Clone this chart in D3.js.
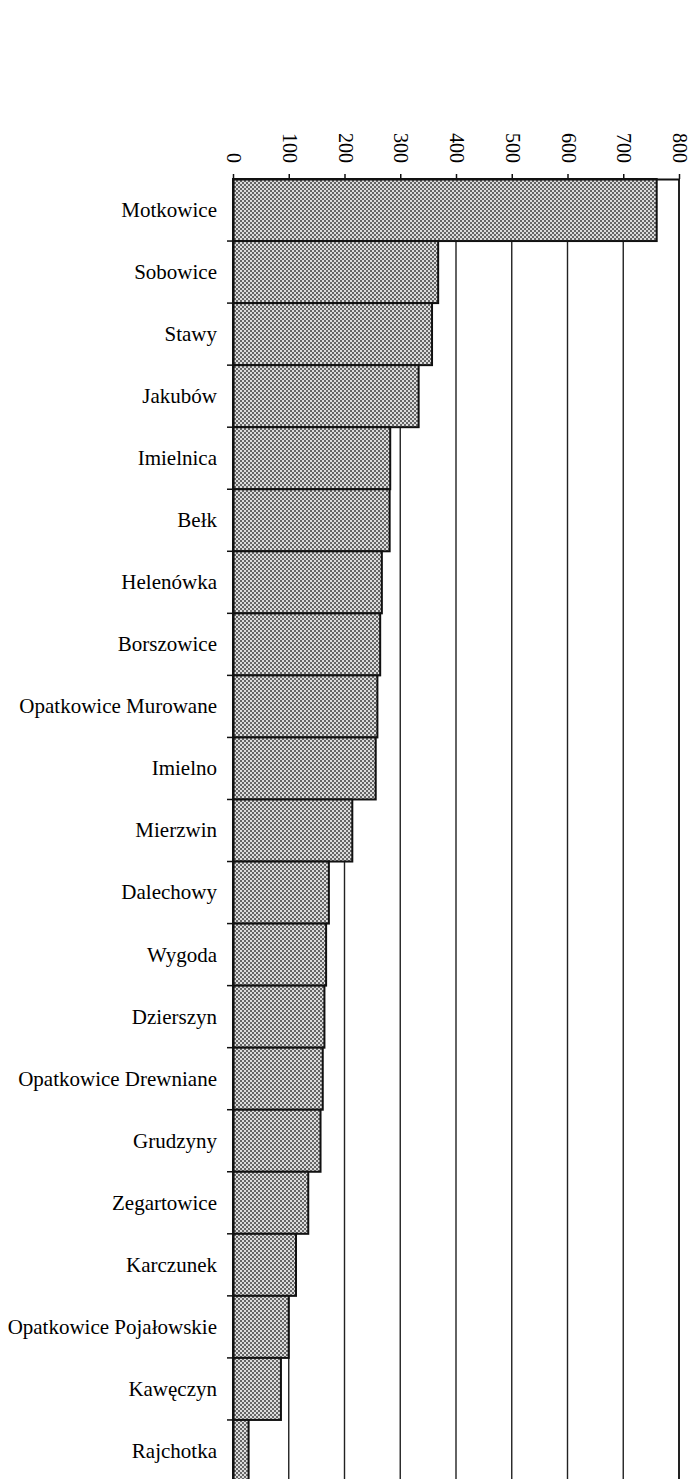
<!DOCTYPE html>
<html>
<head>
<meta charset="utf-8">
<script src="https://cdn.jsdelivr.net/npm/d3@7"></script>
<style>
    body { margin: 0; background: #fff; }
    text { font-family: "Liberation Serif", "Times New Roman", serif; fill: #000; }
</style>
</head>
<body>
<script>
const places = [
    "Motkowice", "Sobowice", "Stawy", "Jakubów", "Imielnica", "Bełk", "Helenówka",
    "Borszowice", "Opatkowice Murowane", "Imielno", "Mierzwin", "Dalechowy", "Wygoda",
    "Dzierszyn", "Opatkowice Drewniane", "Grudzyny", "Zegartowice", "Karczunek",
    "Opatkowice Pojałowskie", "Kawęczyn", "Rajchotka"
]
const counts = [
    760, 368, 357, 333, 282, 281, 267,
    264, 259, 256, 214, 172, 167,
    164, 161, 157, 135, 113,
    100, 86, 28
]
const ticks = [0, 100, 200, 300, 400, 500, 600, 700, 800]

const pageWidth = 693
const pageHeight = 1479
const plotLeft = 233
const plotRight = 679
const plotTop = 179
const plotBottom = 1482

const svg = d3.select("body")
    .append("svg")
    .attr("width", pageWidth)
    .attr("height", pageHeight)

// checker halftone like the scanned original
const pat = svg.append("defs").append("pattern")
    .attr("id", "dots")
    .attr("patternUnits", "userSpaceOnUse")
    .attr("width", 4)
    .attr("height", 4)
pat.append("rect").attr("width", 4).attr("height", 4).attr("fill", "#dcdcdc")
pat.append("rect").attr("x", 0).attr("y", 0).attr("width", 2).attr("height", 2).attr("fill", "#666")
pat.append("rect").attr("x", 2).attr("y", 2).attr("width", 2).attr("height", 2).attr("fill", "#666")

const x = d3.scaleLinear().domain([0, 800]).range([plotLeft, plotRight])
const y = d3.scaleBand().domain(places).range([plotTop, plotBottom]).padding(0)

// vertical grid
svg.append("g")
    .selectAll("line")
    .data(ticks.slice(1))
    .join("line")
    .attr("x1", d => x(d))
    .attr("x2", d => x(d))
    .attr("y1", plotTop)
    .attr("y2", pageHeight)
    .attr("stroke", "#222")
    .attr("stroke-width", d => d === 800 ? 2 : 1.4)

// bars
svg.append("g")
    .selectAll("rect")
    .data(places)
    .join("rect")
    .attr("x", x(0))
    .attr("y", d => y(d))
    .attr("width", (d, i) => x(counts[i]) - x(0))
    .attr("height", y.bandwidth())
    .attr("fill", "url(#dots)")
    .attr("stroke", "#111")
    .attr("stroke-width", 2)

// top axis, labels turned a quarter
const xAxis = svg.append("g")
    .attr("transform", `translate(0,${plotTop})`)
    .call(d3.axisTop(x).tickValues(ticks).tickSize(5).tickSizeOuter(0).tickPadding(0))
xAxis.select(".domain").attr("stroke", "#111").attr("stroke-width", 2.2)
xAxis.selectAll(".tick line").attr("stroke", "#111").attr("stroke-width", 1.5)
xAxis.selectAll(".tick text")
    .attr("transform", "rotate(90)")
    .attr("x", -16)
    .attr("y", 0)
    .attr("dy", "0.32em")
    .attr("text-anchor", "end")
    .style("font-size", "20px")
    .style("font-family", "Liberation Serif, serif")
    .attr("fill", "#000")

// left axis with the place names
const yAxis = svg.append("g")
    .attr("transform", `translate(${plotLeft},0)`)
    .call(d3.axisLeft(y).tickSize(0).tickPadding(16))
yAxis.select(".domain").attr("stroke", "#111").attr("stroke-width", 2.2)
yAxis.selectAll(".tick text")
    .attr("dy", "0.33em")
    .style("font-size", "21px")
    .style("font-family", "Liberation Serif, serif")
    .attr("fill", "#000")

// small marks between categories
svg.append("g")
    .selectAll("line")
    .data(places.slice(1))
    .join("line")
    .attr("x1", plotLeft - 6)
    .attr("x2", plotLeft)
    .attr("y1", d => y(d))
    .attr("y2", d => y(d))
    .attr("stroke", "#111")
    .attr("stroke-width", 1.5)
</script>
</body>
</html>
